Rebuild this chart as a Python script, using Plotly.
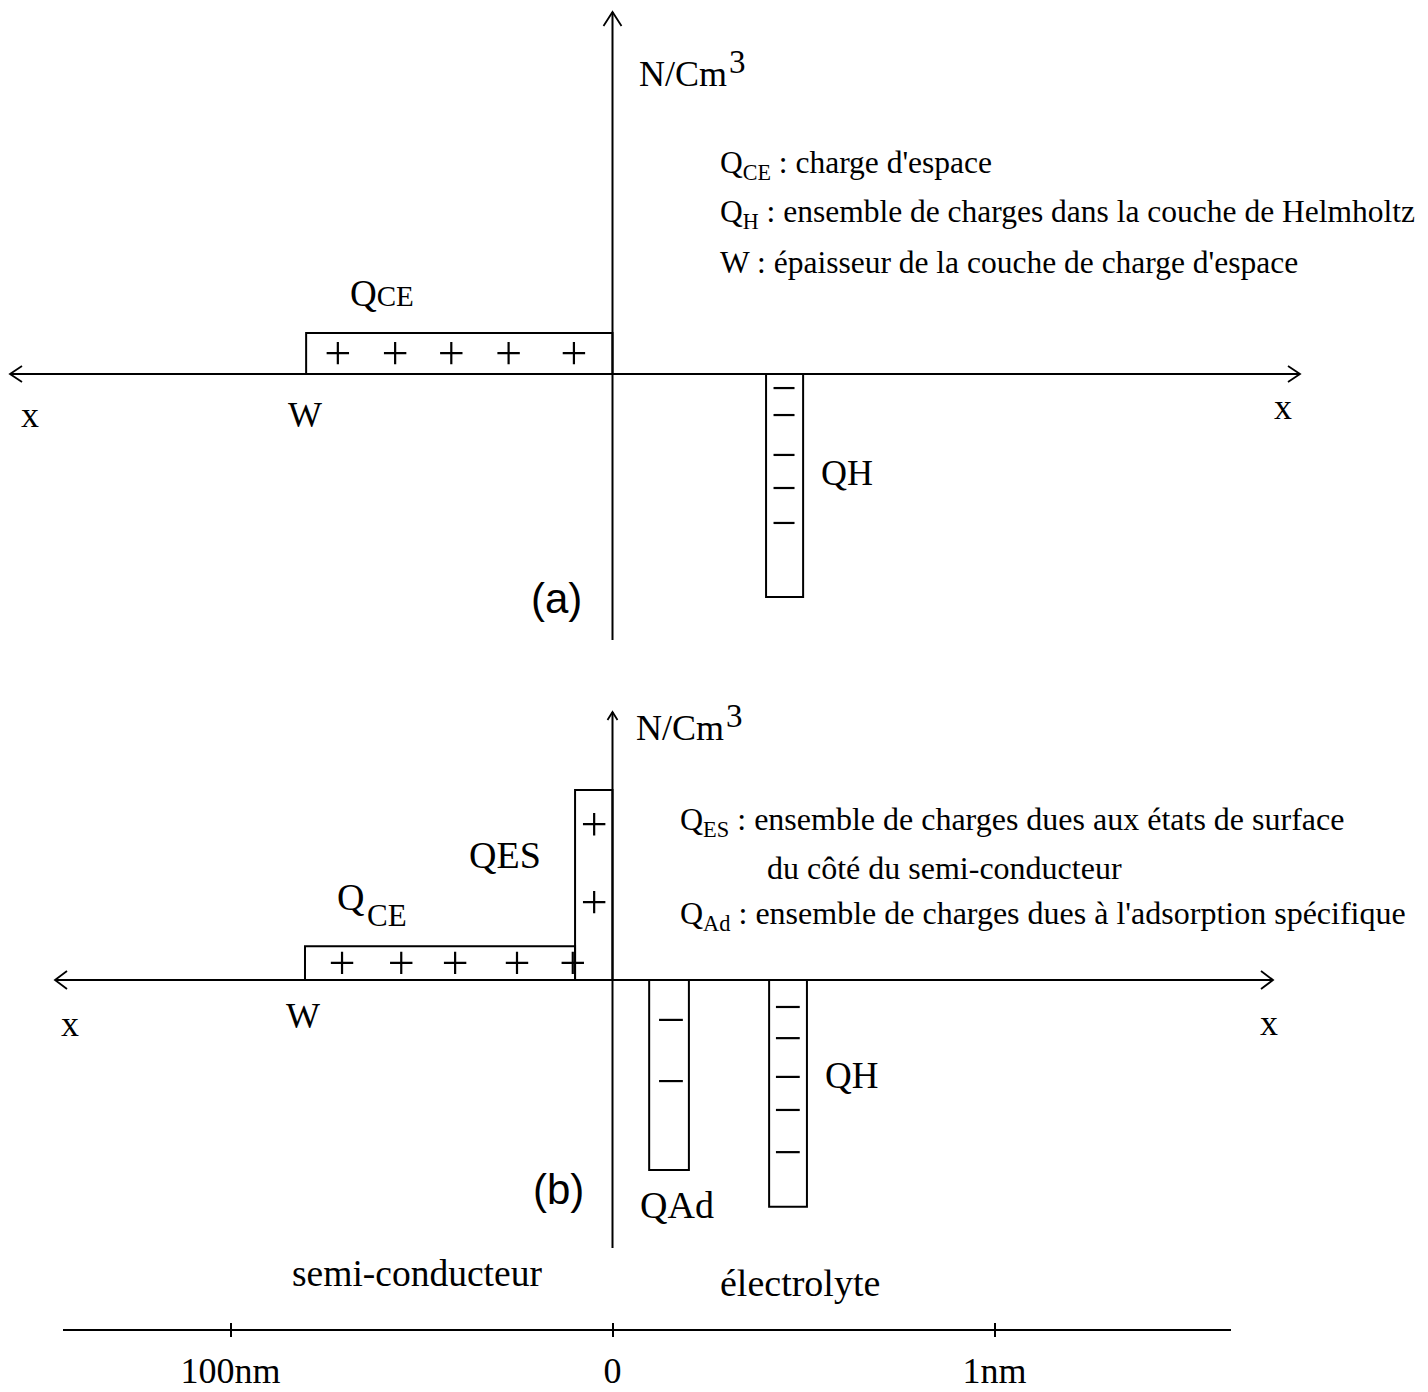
import plotly.graph_objects as go

# ---------------- data ----------------
# schematic distance axis: -1 <-> "100nm" (semiconductor side), 0 = interface, +1 <-> "1nm" (electrolyte side)
scale_ticks = [-1, 0, 1]
scale_labels = ["100nm", "0", "1nm"]

# panel (a): charge blocks -> x extent (schematic units) and density (arbitrary units)
a_blocks = ["QCE", "QH"]
a_x_start = [-0.802, 0.402]
a_x_end = [0.0, 0.499]
a_density = [1.08, -5.87]

a_plus_x = [-0.719, -0.569, -0.422, -0.272, -0.101]
a_plus_y = [0.55, 0.55, 0.55, 0.55, 0.55]
a_minus_x = [0.449, 0.449, 0.449, 0.449, 0.449]
a_minus_y = [-0.37, -1.08, -2.13, -3.0, -3.92]

# panel (b)
b_blocks = ["QCE", "QES", "QAd", "QH"]
b_x_start = [-0.805, -0.098, 0.096, 0.410]
b_x_end = [-0.098, 0.0, 0.200, 0.509]
b_density = [0.89, 5.0, -5.0, -5.97]

b_plus_x = [-0.708, -0.553, -0.412, -0.250, -0.104, -0.048, -0.048]
b_plus_y = [0.45, 0.45, 0.45, 0.45, 0.45, 4.1, 2.05]
b_minus_x = [0.153, 0.153, 0.459, 0.459, 0.459, 0.459, 0.459]
b_minus_y = [-1.05, -2.66, -0.71, -1.53, -2.55, -3.42, -4.53]

# ---------------- layout geometry (page pixels) ----------------
FW, FH = 1428, 1392
OFF = 8                       # default body margin of the html page
X0_PX, PXU_X = 612.5, 382.0
PXU_Y = 38.0
A_TOP, A_BOT, A_BASE = 8, 650, 374
B_TOP, B_BOT, B_BASE = 680, 1300, 980


def xd(px):
    return (px - X0_PX) / PXU_X


def yda(py):
    return (A_BASE - py) / PXU_Y


def ydb(py):
    return (B_BASE - py) / PXU_Y


def P(px, py):
    return (px - OFF) / FW, 1 - (py - OFF) / FH


def dom(top, bot):
    return [1 - (bot - OFF) / FH, 1 - (top - OFF) / FH]


SERIF = "Liberation Serif"
SANS = "Liberation Sans"
INK = "black"
LW = 2

fig = go.Figure()


def seg(xs, ys, yaxis, xaxis="x", width=LW):
    fig.add_trace(go.Scatter(
        x=xs, y=ys, mode="lines", line=dict(color=INK, width=width),
        xaxis=xaxis, yaxis=yaxis, hoverinfo="skip", showlegend=False))


def add_blocks(xs, xe, dens, yaxis):
    for x0, x1, d in zip(xs, xe, dens):
        seg([x0, x0, x1, x1], [0, d, d, 0], yaxis)


def add_signs(xs, ys, symbol, size, yaxis):
    fig.add_trace(go.Scatter(
        x=xs, y=ys, mode="markers", xaxis="x", yaxis=yaxis,
        marker=dict(symbol=symbol, size=size, color=INK,
                    line=dict(color=INK, width=2.2)),
        hoverinfo="skip", showlegend=False))


def h_axis(x_left, x_right, yaxis, back=12, half=8):
    seg([x_left, x_right], [0, 0], yaxis)
    bx, hy = back / PXU_X, half / PXU_Y
    seg([x_right - bx, x_right, x_right - bx], [hy, 0, -hy], yaxis, width=1.8)
    seg([x_left + bx, x_left, x_left + bx], [hy, 0, -hy], yaxis, width=1.8)


def v_axis(y_bot, y_top, yaxis, back=13, half=8):
    seg([0, 0], [y_bot, y_top], yaxis)
    hx, by = half / PXU_X, back / PXU_Y
    seg([-hx, 0, hx], [y_top - by, y_top, y_top - by], yaxis, width=1.8)


# panel (a)
h_axis(xd(10), xd(1300), "y")
v_axis(yda(640), yda(12), "y", back=14, half=9)
add_blocks(a_x_start, a_x_end, a_density, "y")
add_signs(a_plus_x, a_plus_y, "cross-thin", 16, "y")
add_signs(a_minus_x, a_minus_y, "line-ew", 15, "y")

# panel (b)
h_axis(xd(55), xd(1273), "y2", back=12, half=9)
v_axis(ydb(1248), ydb(712), "y2", back=8, half=5)
add_blocks(b_x_start, b_x_end, b_density, "y2")
add_signs(b_plus_x, b_plus_y, "cross-thin", 16, "y2")
add_signs(b_minus_x, b_minus_y, "line-ew", 17, "y2")

# bottom distance scale (carrier trace for its axis)
fig.add_trace(go.Scatter(
    x=scale_ticks, y=[0] * len(scale_ticks), mode="markers",
    marker=dict(opacity=0), xaxis="x2", yaxis="y3",
    hoverinfo="skip", showlegend=False))

annotations = []


def label(text, px, py, size=36, family=SERIF, xanchor="center"):
    x, y = P(px, py)
    annotations.append(dict(
        x=x, y=y, xref="paper", yref="paper", text=text, showarrow=False,
        xanchor=xanchor, yanchor="middle",
        font=dict(family=family, size=size, color=INK)))


# panel (a) texts
label("N/Cm", 637, 74, 36, xanchor="left")
label("3", 727, 62, 33, xanchor="left")
label("Q<sub>CE</sub> : charge d'espace", 718, 165, 31.5, xanchor="left")
label("Q<sub>H</sub> : ensemble de charges dans la couche de Helmholtz", 718, 214, 31.5, xanchor="left")
label("W : épaisseur de la couche de charge d'espace", 718, 262, 31.5, xanchor="left")
label("Q<span style='font-size:29px'>CE</span>", 382, 293, 37)
label("W", 305, 415, 36)
label("x", 30, 415, 36)
label("x", 1283, 407, 36)
label("QH", 847, 473, 36)
label("(a)", 556, 598, 42, family=SANS)

# panel (b) texts
label("N/Cm", 634, 728, 36, xanchor="left")
label("3", 724, 716, 33, xanchor="left")
label("Q<sub>ES</sub> : ensemble de charges dues aux états de surface", 678, 821, 32, xanchor="left")
label("du côté du semi-conducteur", 765, 868, 32, xanchor="left")
label("Q<sub>Ad</sub> : ensemble de charges dues à l'adsorption spécifique", 678, 916, 32, xanchor="left")
label("QES", 505, 855, 38)
label("Q", 350, 897, 38)
label("CE", 387, 915, 31)
label("W", 303, 1016, 36)
label("x", 70, 1024, 36)
label("x", 1269, 1023, 36)
label("QH", 851, 1075, 37)
label("QAd", 677, 1205, 38)
label("(b)", 558, 1189, 42, family=SANS)
label("semi-conducteur", 417, 1273, 37.5)
label("électrolyte", 800, 1283, 38)

hidden = dict(visible=False, showgrid=False, zeroline=False, fixedrange=True)
fig.update_layout(
    width=FW, height=FH,
    margin=dict(l=0, r=0, t=0, b=0),
    paper_bgcolor="white", plot_bgcolor="rgba(0,0,0,0)",
    showlegend=False,
    xaxis=dict(domain=[0, 1], range=[xd(OFF), xd(OFF + FW)], anchor="y", **hidden),
    yaxis=dict(domain=dom(A_TOP, A_BOT), range=[yda(A_BOT), yda(A_TOP)], anchor="x", **hidden),
    yaxis2=dict(domain=dom(B_TOP, B_BOT), range=[ydb(B_BOT), ydb(B_TOP)], anchor="x", **hidden),
    xaxis2=dict(
        domain=[(63 - OFF) / FW, (1231 - OFF) / FW], range=[xd(63), xd(1231)], anchor="y3",
        showline=True, linecolor=INK, linewidth=LW, mirror=False,
        showgrid=False, zeroline=False, fixedrange=True,
        tickmode="array", tickvals=scale_ticks, ticktext=scale_labels,
        ticks="outside", ticklen=6, tickwidth=1.5, tickcolor=INK,
        ticklabelstandoff=3,
        tickfont=dict(family=SERIF, size=36, color=INK),
        minor=dict(ticks="inside", tickmode="array", tickvals=scale_ticks,
                   ticklen=6, tickwidth=1.5, tickcolor=INK, showgrid=False),
    ),
    yaxis3=dict(domain=dom(1318, 1328.5), range=[0, 1], anchor="x2", **hidden),
    annotations=annotations,
)

fig.write_html("out.html")
